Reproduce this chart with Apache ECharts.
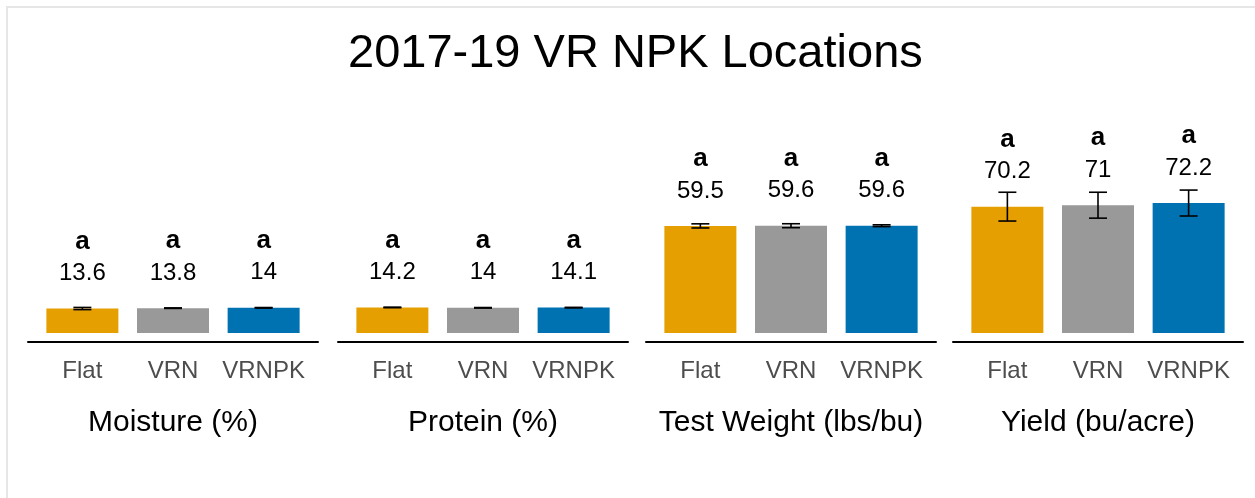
<!DOCTYPE html>
<html>
<head>
<meta charset="utf-8">
<title>2017-19 VR NPK Locations</title>
<script src="https://cdn.jsdelivr.net/npm/echarts@6/dist/echarts.min.js"></script>
<style>
  html, body { margin: 0; padding: 0; background: #fff; }
  #main { width: 1255px; height: 498px; }
</style>
</head>
<body>
<div id="main"></div>
<script>
// treatments and panels
var treatments = ['Flat', 'VRN', 'VRNPK'];
var panels = ['Moisture (%)', 'Protein (%)', 'Test Weight (lbs/bu)', 'Yield (bu/acre)'];

// means per panel (Flat, VRN, VRNPK)
var moisture = [13.6, 13.8, 14];
var protein = [14.2, 14, 14.1];
var testWeight = [59.5, 59.6, 59.6];
var yieldBu = [70.2, 71, 72.2];

// standard errors
var moistureSe = [0.6, 0.15, 0.15];
var proteinSe = [0.15, 0.15, 0.15];
var testWeightSe = [1.15, 1.1, 0.5];
var yieldSe = [8.0, 7.2, 7.2];

// letters
var moistureLetters = ['a', 'a', 'a'];
var proteinLetters = ['a', 'a', 'a'];
var testWeightLetters = ['a', 'a', 'a'];
var yieldLetters = ['a', 'a', 'a'];

var means = [moisture, protein, testWeight, yieldBu];
var ses = [moistureSe, proteinSe, testWeightSe, yieldSe];
var letters = [moistureLetters, proteinLetters, testWeightLetters, yieldLetters];

var colors = ['#E69F00', '#999999', '#0072B2'];
var font = 'Liberation Sans, Arial, sans-serif';
var gridLefts = [28, 338, 646, 953];

var myChart = echarts.init(document.getElementById('main'));

var grid = [], xAxis = [], yAxis = [], series = [];

panels.forEach(function (name, p) {
    grid.push({ left: gridLefts[p], top: 189, width: 290, height: 153 });
    xAxis.push({
        gridIndex: p,
        type: 'value',
        min: 0.4,
        max: 3.6,
        name: name,
        nameLocation: 'middle',
        nameGap: 66,
        nameTextStyle: { fontFamily: font, fontSize: 30, color: '#000' },
        axisLine: { show: true, onZero: false, lineStyle: { color: '#000', width: 2 } },
        axisTick: { show: false },
        splitLine: { show: false },
        axisLabel: {
            customValues: [1, 2, 3],
            margin: 17,
            fontFamily: font,
            fontSize: 24,
            color: '#4d4d4d',
            formatter: function (v) { return treatments[Math.round(v) - 1] || ''; }
        }
    });
    yAxis.push({ gridIndex: p, type: 'value', min: -5, max: 80, show: false });

    // bars with letter + mean on top
    series.push({
        type: 'bar',
        xAxisIndex: p,
        yAxisIndex: p,
        barWidth: 72,
        data: treatments.map(function (t, i) {
            return {
                value: [i + 1, means[p][i]],
                itemStyle: { color: colors[i] },
                label: {
                    show: true,
                    position: 'top',
                    distance: 19,
                    formatter: '{a|' + letters[p][i] + '}\n{v|' + means[p][i] + '}',
                    rich: {
                        a: { fontFamily: font, fontSize: 26, fontWeight: 'bold', color: '#000', lineHeight: 32 },
                        v: { fontFamily: font, fontSize: 24, color: '#000', lineHeight: 32 }
                    }
                }
            };
        }),
        z: 2
    });

    // error bars
    series.push({
        type: 'custom',
        xAxisIndex: p,
        yAxisIndex: p,
        data: treatments.map(function (t, i) {
            return [i + 1, means[p][i], ses[p][i]];
        }),
        renderItem: function (params, api) {
            var x = api.value(0), m = api.value(1), se = api.value(2);
            var top = api.coord([x, m + se]);
            var bot = api.coord([x, m - se]);
            var w = 9;
            var st = { stroke: '#000', lineWidth: 1.6 };
            return {
                type: 'group',
                children: [
                    { type: 'line', shape: { x1: top[0], y1: top[1], x2: bot[0], y2: bot[1] }, style: st },
                    { type: 'line', shape: { x1: top[0] - w, y1: top[1], x2: top[0] + w, y2: top[1] }, style: st },
                    { type: 'line', shape: { x1: bot[0] - w, y1: bot[1], x2: bot[0] + w, y2: bot[1] }, style: st }
                ]
            };
        },
        z: 3
    });
});

var option = {
    backgroundColor: '#fff',
    animation: false,
    title: {
        text: '2017-19 VR NPK Locations',
        left: 343,
        top: 26,
        textStyle: { fontFamily: font, fontSize: 47, fontWeight: 'normal', color: '#000' }
    },
    graphic: [
        { type: 'line', shape: { x1: 6, y1: 7, x2: 1255, y2: 7 }, style: { stroke: '#e6e6e6', lineWidth: 2 } },
        { type: 'line', shape: { x1: 7, y1: 6, x2: 7, y2: 498 }, style: { stroke: '#e6e6e6', lineWidth: 2 } }
    ],
    grid: grid,
    xAxis: xAxis,
    yAxis: yAxis,
    series: series
};

myChart.setOption(option);
window.onresize = myChart.resize;
</script>
</body>
</html>
